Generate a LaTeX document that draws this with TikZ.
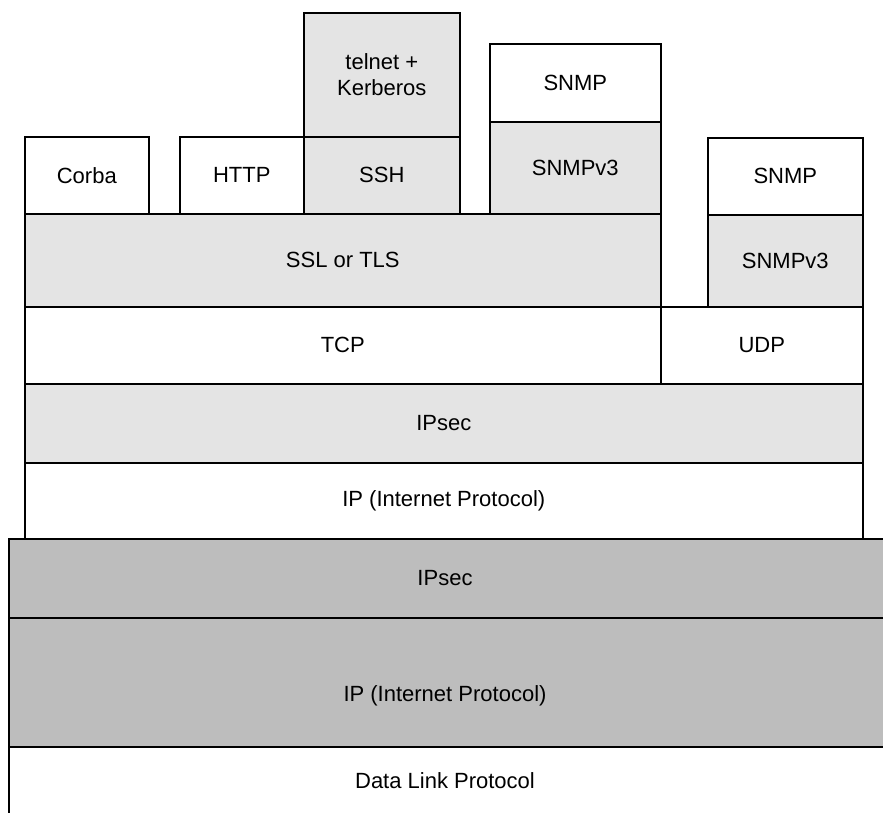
\documentclass[tikz,border=0pt]{standalone}
\usepackage{fontspec}
\setmainfont{Liberation Sans}
\begin{document}
\begin{tikzpicture}[x=1pt,y=-1pt,
  box/.style={draw=black, line width=1.6pt, inner sep=0pt, anchor=north west, font=\fontsize{22}{26}\selectfont, align=center},
  lite/.style={box, fill=lightpat},
  dark/.style={box, fill=darkpat},
  plain/.style={box, fill=white},
  lbl/.style={inner sep=0pt, font=\fontsize{22}{26}\selectfont, align=center}]
\definecolor{lightpat}{HTML}{E4E4E4}
\definecolor{darkpat}{HTML}{BDBDBD}
\useasboundingbox (0,0) rectangle (883,812);
\clip (0,0) rectangle (883,812);
% lower stack
\node[dark, minimum width=890, minimum height=79] (ipsec2) at (8,538) {};
\node[lbl] (ipsec2t) at (445,578) {IPsec};
\node[dark, minimum width=890, minimum height=129] (ip2) at (8,617) {};
\node[lbl] (ip2t) at (445,696) {IP (Internet Protocol)};
\node[plain, minimum width=890, minimum height=80] (dl) at (8,746) {};
\node[lbl] (dlt) at (445,781) {Data Link Protocol};
% upper stack
\node[plain, minimum width=838, minimum height=76] (ip1) at (24,462) {IP (Internet Protocol)};
\node[lite, minimum width=838, minimum height=79] (ipsec1) at (24,383) {IPsec};
\node[plain, minimum width=636, minimum height=77] (tcp) at (24,306) {TCP};
\node[plain, minimum width=202, minimum height=77] (udp) at (660,306) {UDP};
\node[lite, minimum width=636, minimum height=93] (ssl) at (24,213) {SSL or TLS};
\node[lite, minimum width=155, minimum height=92] (snmpv3b) at (707,214) {SNMPv3};
\node[plain, minimum width=155, minimum height=77] (snmpb) at (707,137) {SNMP};
\node[plain, minimum width=124, minimum height=77] (corba) at (24,136) {Corba};
\node[plain, minimum width=124, minimum height=77] (http) at (179,136) {HTTP};
\node[lite, minimum width=156, minimum height=77] (ssh) at (303,136) {SSH};
\node[lite, minimum width=156, minimum height=124] (telnet) at (303,12) {telnet +\\Kerberos};
\node[lite, minimum width=171, minimum height=92] (snmpv3a) at (489,121) {SNMPv3};
\node[plain, minimum width=171, minimum height=78] (snmpa) at (489,43) {SNMP};
\end{tikzpicture}
\end{document}
